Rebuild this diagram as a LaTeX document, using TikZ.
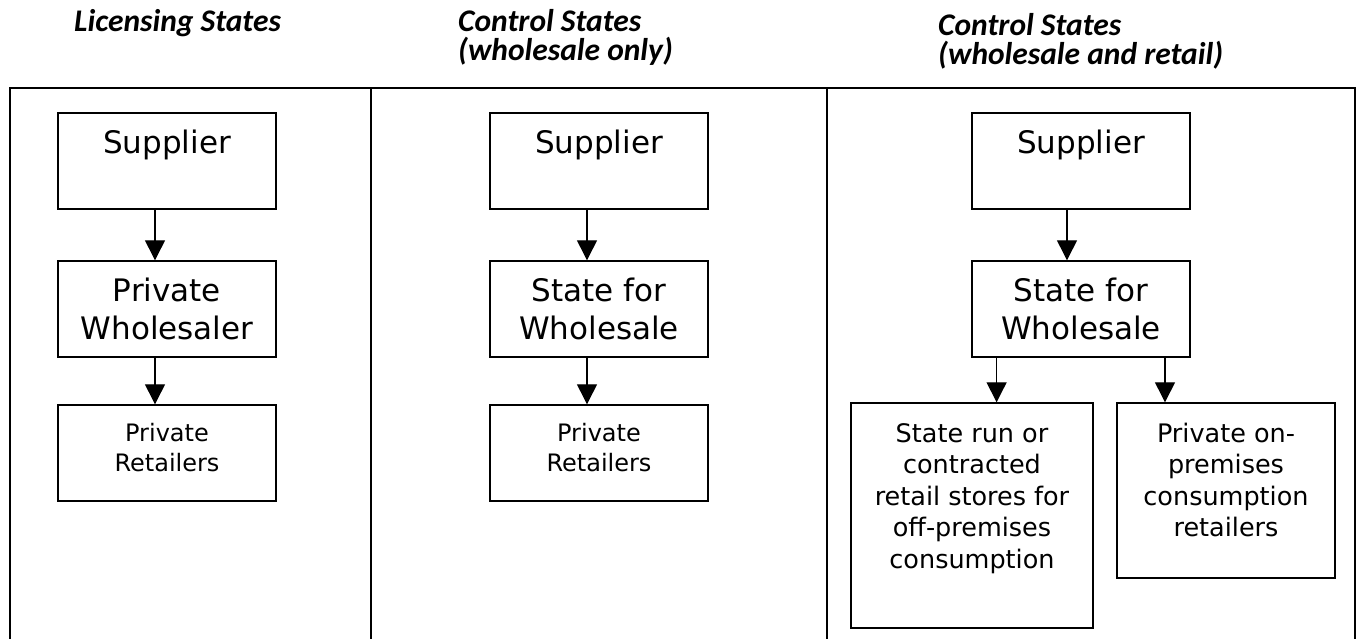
\documentclass[tikz,border=0pt]{standalone}
\usepackage{fontspec}
\setmainfont{DejaVu Sans}
\newfontfamily\headfont{Carlito}
\usetikzlibrary{arrows.meta}
\newcommand\btext[4]{\parbox[c][#2][t]{#1}{\centering\rule{0pt}{#3}#4}}
\begin{document}
\begin{tikzpicture}[x=1pt,y=-1pt,
  frame/.style={line width=1.8pt},
  bx/.style={draw, line width=1.4pt, inner sep=0pt},
  big/.style={font=\fontsize{31}{37.5}\selectfont},
  small/.style={font=\fontsize{24}{29.3}\selectfont},
  mid/.style={font=\fontsize{25.5}{31.5}\selectfont},
  head/.style={font=\headfont\bfseries\itshape\fontsize{31.5}{28.5}\selectfont, inner sep=0pt, align=left},
  arr/.style={line width=1.3pt, -{Triangle[length=20pt,width=20pt]}}]
\useasboundingbox (0,0) rectangle (1361,639);

% frame
\draw[frame] (10,645) -- (10,88) -- (1355,88) -- (1355,645);
\draw[frame] (371,88) -- (371,645);
\draw[frame] (827,88) -- (827,645);

% headings (anchor at baseline of last line)
\node[head, anchor=base west] (h1) at (74,31.7) {Licensing States};
\node[head, anchor=base west] (h2) at (458,60.2) {Control States\\(wholesale only)};
\node[head, anchor=base west] (h3) at (938,64.2) {Control States\\(wholesale and retail)};

% column 1
\node[bx,big] (sup1) at (167,161) {\btext{218pt}{96pt}{41pt}{Supplier}};
\node[bx,big] (whl1) at (167,309) {\btext{218pt}{96pt}{40.7pt}{Private\\Wholesaler}};
\node[bx,small] (ret1) at (167,453) {\btext{218pt}{96pt}{36.7pt}{Private\\Retailers}};

% column 2
\node[bx,big] (sup2) at (599,161) {\btext{218pt}{96pt}{41pt}{Supplier}};
\node[bx,big] (whl2) at (599,309) {\btext{218pt}{96pt}{40.7pt}{State for\\Wholesale}};
\node[bx,small] (ret2) at (599,453) {\btext{218pt}{96pt}{36.7pt}{Private\\Retailers}};

% column 3
\node[bx,big] (sup3) at (1081,161) {\btext{218pt}{96pt}{41pt}{Supplier}};
\node[bx,big] (whl3) at (1081,309) {\btext{218pt}{96pt}{40.7pt}{State for\\Wholesale}};
\node[bx,mid] (ret3a) at (972,515.5) {\btext{242pt}{225pt}{39.4pt}{State run or\\contracted\\retail stores for\\off-premises\\consumption}};
\node[bx,mid] (ret3b) at (1226,490.5) {\btext{218pt}{175pt}{39.4pt}{Private on-\\premises\\consumption\\retailers}};

% arrow x positions
\coordinate (x1) at (155,0);
\coordinate (x2) at (587,0);
\coordinate (x3) at (1067,0);
\coordinate (x3a) at (996.6,0);
\coordinate (x3b) at (1165,0);

\draw[arr] (sup1.south -| x1) -- (whl1.north -| x1);
\draw[arr] (whl1.south -| x1) -- (ret1.north -| x1);
\draw[arr] (sup2.south -| x2) -- (whl2.north -| x2);
\draw[arr] (whl2.south -| x2) -- (ret2.north -| x2);
\draw[arr] (sup3.south -| x3) -- (whl3.north -| x3);
\draw[arr] (whl3.south -| x3a) -- (ret3a.north -| x3a);
\draw[arr] (whl3.south -| x3b) -- (ret3b.north -| x3b);
\end{tikzpicture}
\end{document}
